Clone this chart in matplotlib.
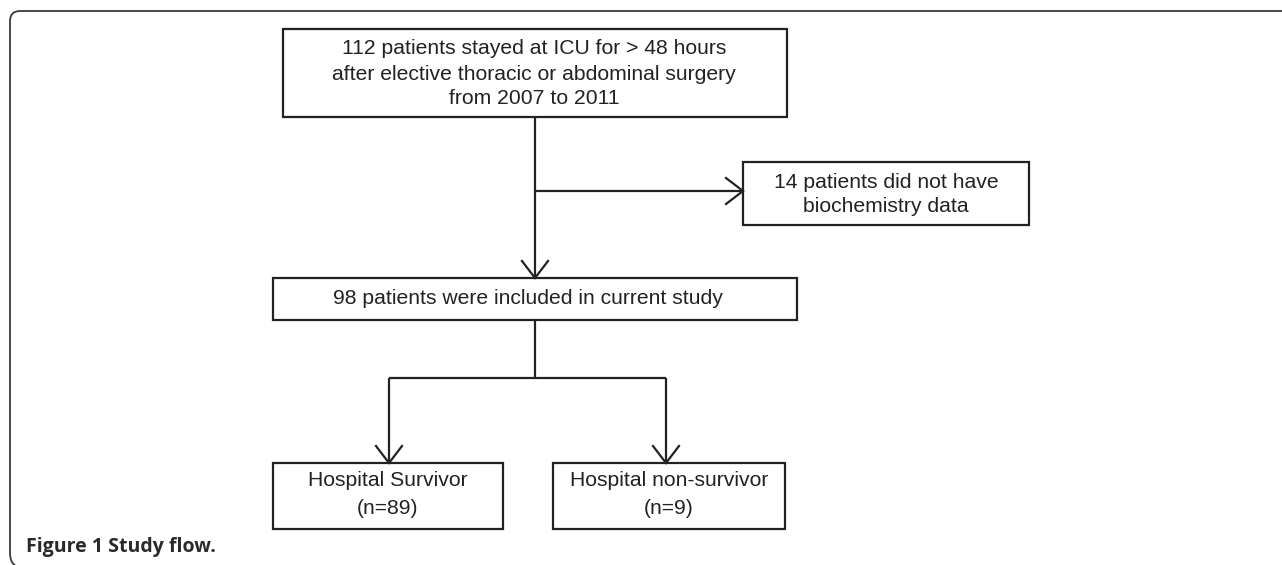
import matplotlib
matplotlib.use('Agg')
import matplotlib.pyplot as plt
from matplotlib.patches import Rectangle, PathPatch
from matplotlib.path import Path

# --- data ---
n_total = 112
n_excluded = 14
n_included = 98
outcome_labels = ["Hospital Survivor", "Hospital non-survivor"]
outcome_counts = [89, 9]
years = [2007, 2011]

W, H = 1282, 565
LINE = '#222222'
FONT = ['Liberation Sans', 'DejaVu Sans']
FS = 15.2

fig = plt.figure(figsize=(W / 100, H / 100), dpi=100)
ax = fig.add_axes([0, 0, 1, 1])
ax.set_xlim(0, W)
ax.set_ylim(H, 0)
ax.axis('off')


def box(x0, y0, x1, y1, lines, line_y, cx=None):
    ax.add_patch(Rectangle((x0, y0), x1 - x0, y1 - y0, facecolor='white',
                           edgecolor=LINE, linewidth=1.6))
    if cx is None:
        cx = (x0 + x1) / 2
    for txt, ty in zip(lines, line_y):
        ax.text(cx, ty, txt, ha='center', va='center', fontsize=FS,
                family=FONT, color='#222222')


def seg(x0, y0, x1, y1):
    ax.plot([x0, x1], [y0, y1], color=LINE, lw=1.6, solid_capstyle='butt')


def arrow_head(x, y, direction, length=17, half=13):
    # open V arrow head, tip at (x, y)
    if direction == 'down':
        pts = [(x - half, y - length), (x, y), (x + half, y - length)]
    else:  # right
        pts = [(x - length, y - half), (x, y), (x - length, y + half)]
    ax.plot([p[0] for p in pts], [p[1] for p in pts], color=LINE, lw=1.6,
            solid_joinstyle='miter')


# --- outer frame (rounded left corners, open right) ---
verts = [(W + 5, 11), (20, 11), (10, 11), (10, 21), (10, 553), (10, 563), (16, 566)]
codes = [Path.MOVETO, Path.LINETO, Path.CURVE3, Path.CURVE3, Path.LINETO,
         Path.CURVE3, Path.CURVE3]
ax.add_patch(PathPatch(Path(verts, codes), facecolor='none', edgecolor='#3a3a3a',
                       lw=1.3))

# --- boxes ---
box(283, 29, 787, 117,
    [f"{n_total} patients stayed at ICU for > 48 hours",
     "after elective thoracic or abdominal surgery",
     f"from {years[0]} to {years[1]}"],
    [48, 74, 99], cx=534)
box(743, 162, 1029, 225,
    [f"{n_excluded} patients did not have", "biochemistry data"],
    [182, 207])
box(273, 278, 797, 320,
    [f"{n_included} patients were included in current study"], [298], cx=528)
bottom_x = [(273, 503), (553, 785)]
for (x0, x1), lab, n in zip(bottom_x, outcome_labels, outcome_counts):
    box(x0, 463, x1, 529, [lab, f"(n={n})"], [481, 508])

# --- connectors ---
seg(535, 117, 535, 278)
arrow_head(535, 278, 'down')
seg(535, 191, 743, 191)
arrow_head(743, 191, 'right')
seg(535, 320, 535, 378)
seg(389, 378, 666, 378)
for x in (389, 666):
    seg(x, 378, x, 463)
    arrow_head(x, 463, 'down')

# --- caption ---
ax.text(26, 552, "Figure 1 Study flow.", fontsize=14, fontweight='bold',
        family=['Open Sans', 'DejaVu Sans'], color='#2a2a2a',
        va='baseline', ha='left')

fig.savefig('out.png', dpi=100)
